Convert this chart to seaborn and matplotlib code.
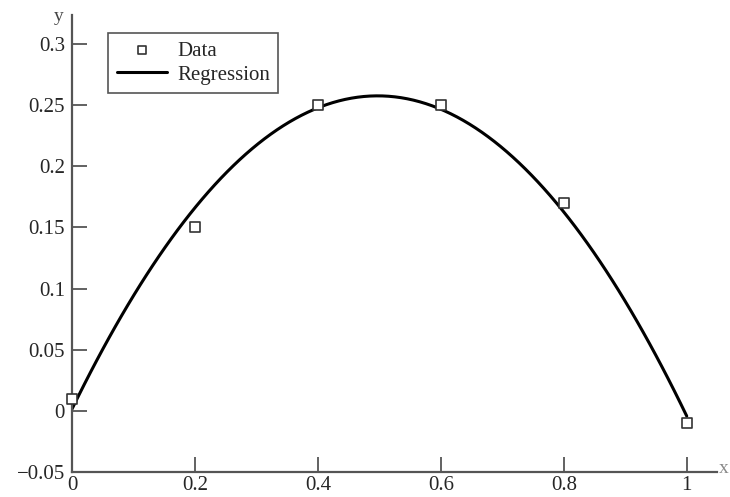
import matplotlib
matplotlib.use("Agg")
import matplotlib.pyplot as plt
import seaborn as sns
import pandas as pd
import numpy as np

# data
x_data = [0.0, 0.2, 0.4, 0.6, 0.8, 1.0]
y_data = [0.01, 0.15, 0.25, 0.25, 0.17, -0.01]
x_ticks = [0, 0.2, 0.4, 0.6, 0.8, 1]
y_ticks = [-0.05, 0, 0.05, 0.1, 0.15, 0.2, 0.25, 0.3]
y_ticklabels = ["\u22120.05", "0", "0.05", "0.1", "0.15", "0.2", "0.25", "0.3"]

df = pd.DataFrame({"x": x_data, "y": y_data})

sns.set_style("ticks")
plt.rcParams["font.family"] = ["Liberation Serif", "DejaVu Serif"]

fig = plt.figure(figsize=(7.3, 4.97), dpi=100)
ax = fig.add_axes([0.0986, 0.0503, 0.8834, 0.9195])

# quadratic least squares regression line
sns.regplot(data=df, x="x", y="y", order=2, ci=None, scatter=False, truncate=True,
            label="Regression", line_kws={"color": "black", "lw": 2.2}, ax=ax)
sns.scatterplot(data=df, x="x", y="y", marker="s", s=60, facecolor="white",
                edgecolor="#333333", linewidth=1.2, label="Data", zorder=5,
                clip_on=False, ax=ax)

ax.set_xlim(0, 1.049)
ax.set_ylim(-0.05, 0.3236)
ax.set_xticks(x_ticks)
ax.set_xticklabels([str(t) for t in x_ticks])
ax.set_yticks(y_ticks)
ax.set_yticklabels(y_ticklabels)
ax.set_xlabel("")
ax.set_ylabel("")
ax.tick_params(direction="in", length=11, width=1.3, color="#555555",
               labelsize=15, pad=5)
ax.tick_params(axis="x", pad=3)

for side in ["top", "right"]:
    ax.spines[side].set_visible(False)
for side in ["left", "bottom"]:
    ax.spines[side].set_linewidth(1.6)
    ax.spines[side].set_color("#555555")

fig.text(0.080, 0.966, "y", fontsize=14, ha="center", va="center", color="#444444")
fig.text(0.992, 0.058, "x", fontsize=14, ha="center", va="center", color="#888888")

handles, labels = ax.get_legend_handles_labels()
order = [labels.index("Data"), labels.index("Regression")]
leg = ax.legend([handles[i] for i in order], [labels[i] for i in order],
                loc="upper left", bbox_to_anchor=(0.05, 0.97), fancybox=False,
                edgecolor="#555555", framealpha=1, fontsize=15,
                handlelength=2.4, borderpad=0.4, labelspacing=0.2,
                handletextpad=0.5, borderaxespad=0.2, markerscale=0.75)
leg.get_frame().set_linewidth(1.2)

fig.savefig("out.png", dpi=100)
